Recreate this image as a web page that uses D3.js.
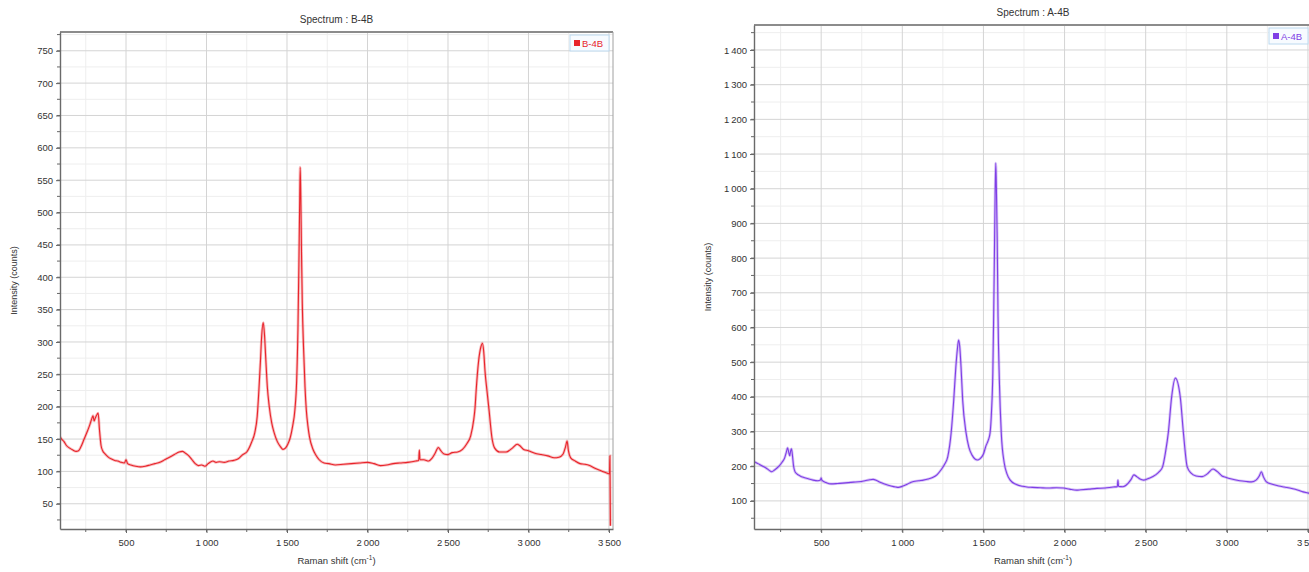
<!DOCTYPE html>
<html>
<head>
<meta charset="utf-8">
<script src="https://cdn.jsdelivr.net/npm/d3@7"></script>
<style>
  body { margin: 0; background: #fff; }
  svg { display: block; font-family: "Liberation Sans", Arial, sans-serif; }
</style>
</head>
<body>
<svg id="chart" width="1309" height="572"></svg>
<script>
// B-4B spectrum (left)
const b4b_shift = [90,100,115,130,150,170,190,205,220,240,260,275,288,295,302,310,320,327,335,345,355,370,390,410,430,450,470,490,500,510,530,560,590,620,650,680,710,740,770,800,830,850,870,890,910,930,950,970,990,1010,1040,1060,1080,1110,1140,1170,1200,1225,1250,1280,1300,1315,1326,1335,1343,1352,1360,1368,1378,1390,1405,1420,1440,1460,1475,1490,1505,1520,1535,1549,1560,1568,1574,1578,1582,1586,1590,1595,1603,1612,1620,1630,1640,1660,1680,1700,1730,1760,1800,1850,1900,1950,2000,2040,2080,2120,2160,2200,2250,2300,2318,2322,2326,2350,2380,2400,2420,2440,2455,2475,2500,2526,2560,2590,2615,2641,2660,2668,2675,2690,2705,2714,2722,2730,2742,2755,2773,2790,2820,2861,2900,2930,2945,2970,3000,3040,3080,3120,3160,3190,3215,3230,3240,3248,3262,3290,3320,3350,3380,3420,3460,3490,3503,3506,3509];
const b4b_counts = [153,150,146,140,136,133,131,132,138,150,162,172,182,186,178,183,188,190,165,140,132,127,122,119,117,116,114,113,118,112,110,108,107,108,110,112,114,118,122,126,130,131,128,124,118,112,109,110,108,112,116,114,115,114,116,117,120,126,130,145,160,185,228,270,310,330,312,275,230,200,175,160,146,138,134,136,142,152,170,195,240,320,420,500,570,520,440,360,290,230,195,170,153,135,125,118,113,112,110,111,112,113,114,112,109,110,112,113,114,116,117,133,118,118,116,120,128,137,132,127,126,129,130,134,142,155,180,198,225,270,293,298,285,255,225,195,152,136,130,130,136,142,140,134,132,128,126,124,121,122,127,138,147,132,121,116,112,111,109,104,100,97,96,124,16];

// A-4B spectrum (right)
const a4b_shift = [86,100,120,140,160,180,195,215,240,260,275,285,293,300,306,312,317,322,330,338,350,370,390,420,450,480,495,500,505,530,560,600,650,700,730,770,800,820,845,872,900,930,960,976,1000,1030,1055,1100,1130,1159,1190,1215,1238,1260,1280,1301,1317,1330,1340,1347,1354,1362,1372,1393,1410,1430,1450,1463,1480,1500,1515,1530,1541,1550,1558,1563,1568,1572,1576,1580,1585,1590,1598,1610,1628,1645,1665,1700,1740,1768,1800,1850,1900,1950,1994,2030,2073,2100,2150,2200,2250,2299,2325,2329,2333,2360,2390,2410,2427,2445,2465,2488,2520,2561,2585,2604,2622,2640,2660,2683,2713,2732,2756,2780,2810,2848,2880,2915,2940,2970,2988,3030,3080,3120,3152,3180,3200,3213,3225,3244,3280,3320,3354,3400,3440,3470,3500,3525];
const a4b_counts = [213,210,205,200,195,188,184,190,200,212,224,240,253,240,230,245,250,235,200,185,178,172,168,164,160,158,160,166,159,153,149,150,152,154,155,158,161,162,158,152,147,143,140,139,142,148,154,158,160,163,168,176,189,205,227,296,391,486,540,564,545,486,391,296,255,232,220,218,222,235,258,275,296,360,470,630,820,980,1074,1000,850,630,450,296,210,178,160,148,142,140,139,138,137,138,137,134,131,132,134,136,137,140,141,160,142,141,150,162,175,170,163,160,165,175,185,198,240,299,400,454,400,299,198,180,172,170,178,192,185,172,169,163,158,156,155,160,172,184,170,155,148,143,140,136,131,126,123,120];

const b4b_yticks = [50,100,150,200,250,300,350,400,450,500,550,600,650,700,750];
const a4b_yticks = [100,200,300,400,500,600,700,800,900,1000,1100,1200,1300,1400];
const xticks = [500,1000,1500,2000,2500,3000,3500];

const svg = d3.select("#chart");
const fmt = d => d >= 1000 ? Math.floor(d/1000) + "\u2009" + d3.format("03d")(d % 1000) : String(d);


function draw_spectrum(opts) {
    const {left, top, right, bottom, xdom, ydom, yticks, ystep, shift, counts, color, title, name, id} = opts;
    const g = svg.append("g");

    const x = d3.scaleLinear().domain(xdom).range([left, right]);
    const y = d3.scaleLinear().domain(ydom).range([bottom, top]);

    const xminor = d3.range(250, xdom[1], 250).filter(v => v > xdom[0]);
    const yminor = d3.range(ystep/2, ydom[1], ystep/2).filter(v => v > ydom[0]);

    // minor grid
    g.append("g").selectAll("line").data(xminor.filter(v => v % 500)).join("line")
        .attr("x1", d => x(d)).attr("x2", d => x(d)).attr("y1", top).attr("y2", bottom)
        .attr("stroke", "#eeeeee");
    g.append("g").selectAll("line").data(yminor.filter(v => v % ystep)).join("line")
        .attr("x1", left).attr("x2", right).attr("y1", d => y(d)).attr("y2", d => y(d))
        .attr("stroke", "#eeeeee");

    // major grid
    g.append("g").selectAll("line").data(xticks).join("line")
        .attr("x1", d => x(d)).attr("x2", d => x(d)).attr("y1", top).attr("y2", bottom)
        .attr("stroke", "#d4d4d4");
    g.append("g").selectAll("line").data(yticks).join("line")
        .attr("x1", left).attr("x2", right).attr("y1", d => y(d)).attr("y2", d => y(d))
        .attr("stroke", "#d4d4d4");

    // frame
    g.append("line").attr("x1", left).attr("x2", right).attr("y1", top).attr("y2", top)
        .attr("stroke", "#8c8c8c").attr("stroke-width", 2);
    g.append("line").attr("x1", right).attr("x2", right).attr("y1", top).attr("y2", bottom)
        .attr("stroke", "#a0a0a0");

    // spectrum
    svg.append("clipPath").attr("id", id).append("rect")
        .attr("x", left).attr("y", top).attr("width", right-left).attr("height", bottom-top);
    const pts = shift.map((s, i) => [s, counts[i]]);
    const line = d3.line().curve(d3.curveMonotoneX).x(d => x(d[0])).y(d => y(d[1]));
    g.append("path").datum(pts).attr("clip-path", `url(#${id})`)
        .attr("d", line).attr("fill", "none")
        .attr("stroke", color).attr("stroke-opacity", 0.3).attr("stroke-width", 2.8);
    g.append("path").datum(pts).attr("clip-path", `url(#${id})`)
        .attr("d", line).attr("fill", "none")
        .attr("stroke", color).attr("stroke-width", 1.1);

    // axis_x
    const ax = g.append("g").attr("transform", `translate(0, ${bottom})`)
        .call(d3.axisBottom(x).tickValues(xticks).tickFormat(fmt).tickSize(4).tickSizeOuter(0));
    ax.append("g").selectAll("line").data(xminor).join("line")
        .attr("x1", d => x(d)).attr("x2", d => x(d)).attr("y1", 0).attr("y2", 3).attr("stroke", "#666");

    // axis_y
    const ay = g.append("g").attr("transform", `translate(${left}, 0)`)
        .call(d3.axisLeft(y).tickValues(yticks).tickFormat(fmt).tickSize(4).tickSizeOuter(0));
    ay.append("g").selectAll("line").data(yminor).join("line")
        .attr("x1", 0).attr("x2", -3).attr("y1", d => y(d)).attr("y2", d => y(d)).attr("stroke", "#666");

    [ax, ay].forEach(a => {
        a.select(".domain").attr("stroke", "#6a6a6a").attr("stroke-width", 1.4);
        a.selectAll(".tick line").attr("stroke", "#666");
        a.selectAll("text").attr("fill", "#333").style("font-size", "9.5px");
    });
    ax.selectAll(".tick text").attr("dy", "1.1em");

    // title & labels
    const cx = (left + right) / 2;
    g.append("text").attr("x", cx).attr("y", top - 9).attr("text-anchor", "middle")
        .attr("fill", "#333").style("font-size", "10px").text(title);
    g.append("text").attr("x", cx).attr("y", bottom + 35).attr("text-anchor", "middle")
        .attr("fill", "#333").style("font-size", "9.5px")
        .text("Raman shift (cm")
        .call(t => t.append("tspan").attr("dy", -4).style("font-size", "6.5px").text("-1"))
        .call(t => t.append("tspan").attr("dy", 4).text(")"));
    g.append("text").attr("transform", `translate(${left - 43}, ${(top + bottom)/2}) rotate(-90)`)
        .attr("text-anchor", "middle").attr("fill", "#333").style("font-size", "9px")
        .text("Intensity (counts)");

    // legend
    const lg = g.append("g").attr("transform", `translate(${right - 43}, ${top + 3})`);
    lg.append("rect").attr("width", 39).attr("height", 16).attr("fill", "#f7fbff")
        .attr("stroke", "#bcd9ef");
    lg.append("rect").attr("x", 4).attr("y", 5).attr("width", 6).attr("height", 6).attr("fill", color);
    lg.append("text").attr("x", 12).attr("y", 11.5).attr("fill", color)
        .style("font-size", "9.5px").text(name);
}

draw_spectrum({
    id: "clip-b", left: 60, top: 32, right: 613, bottom: 529,
    xdom: [90, 3525], ydom: [11, 779], yticks: b4b_yticks, ystep: 50,
    shift: b4b_shift, counts: b4b_counts, color: "#e8242b",
    title: "Spectrum : B-4B", name: "B-4B"
});

draw_spectrum({
    id: "clip-a", left: 754, top: 25, right: 1312, bottom: 529,
    xdom: [86, 3525], ydom: [19, 1472], yticks: a4b_yticks, ystep: 100,
    shift: a4b_shift, counts: a4b_counts, color: "#7f3ee6",
    title: "Spectrum : A-4B", name: "A-4B"
});
</script>
</body>
</html>
